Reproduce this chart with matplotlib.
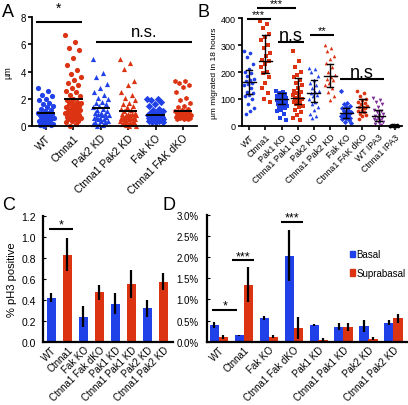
import matplotlib
matplotlib.use('Agg')
import matplotlib.pyplot as plt
from matplotlib.patches import Patch
from matplotlib.ticker import FuncFormatter

plt.rcParams['font.family'] = ['Liberation Sans', 'DejaVu Sans']

BLUE = '#2040e8'
RED = '#dc3412'
PURPLE = '#7b2c98'

# ---- panel A data (um) ----
A_labels = ['WT', 'Ctnna1', 'Pak2 KD', 'Ctnna1 Pak2 KD', 'Fak KO', 'Ctnna1 FAK dKO']
A_wt = [2.8, 2.6, 2.3, 2.2, 2.0, 1.9, 1.7, 1.6, 1.5, 1.4, 1.3, 1.2, 1.1, 1.0, 1.0, 0.9, 0.9,
        0.8, 0.8, 0.7, 0.7, 0.6, 0.6, 0.5, 0.5, 0.4, 0.4, 0.3, 0.3, 0.2, 0.2, 0.1, 0.1, 0.0]
A_ctnna1 = [6.7, 6.2, 5.7, 5.6, 5.0, 4.5, 4.1, 3.8, 3.6, 3.4, 3.2, 3.0, 2.8, 2.6, 2.5, 2.3, 2.2,
            2.0, 1.9, 1.8, 1.8, 1.7, 1.6, 1.6, 1.5, 1.5, 1.4, 1.4, 1.3, 1.2, 1.2, 1.1, 1.1, 1.0,
            1.0, 0.9, 0.9, 0.8, 0.8, 0.7, 0.7, 0.6, 0.6, 0.5, 0.5, 0.4, 0.4, 0.3, 0.2, 0.0]
A_pak2 = [4.9, 3.9, 3.6, 3.1, 2.8, 2.5, 2.3, 2.1, 2.0, 1.8, 1.7, 1.6, 1.5, 1.4, 1.3, 1.2, 1.1,
          1.0, 1.0, 0.9, 0.9, 0.8, 0.8, 0.7, 0.7, 0.6, 0.6, 0.5, 0.5, 0.4, 0.4, 0.3, 0.3, 0.2,
          0.2, 0.1, 0.0]
A_ctnna1_pak2 = [4.9, 4.6, 4.2, 3.3, 3.0, 2.5, 2.3, 2.1, 1.9, 1.7, 1.6, 1.5, 1.4, 1.3, 1.2, 1.1,
                 1.0, 0.9, 0.9, 0.9, 0.8, 0.8, 0.8, 0.7, 0.7, 0.7, 0.6, 0.6, 0.6, 0.5, 0.5, 0.5,
                 0.4, 0.4, 0.4, 0.3, 0.3, 0.3, 0.2, 0.2, 0.2, 0.1, 0.0, 0.0]
A_fak = [2.0, 2.0, 1.9, 1.8, 1.6, 1.5, 1.3, 1.2, 1.1, 1.0, 1.0, 0.9, 0.9, 0.8, 0.8, 0.7, 0.7,
         0.7, 0.6, 0.6, 0.6, 0.5, 0.5, 0.5, 0.5, 0.4, 0.4, 0.4, 0.3, 0.3, 0.3]
A_dko = [3.3, 3.3, 3.2, 3.0, 2.9, 2.5, 2.1, 1.9, 1.7, 1.5, 1.4, 1.3, 1.2, 1.1, 1.1, 1.0, 1.0,
         1.0, 0.9, 0.9, 0.9, 0.8, 0.8, 0.8, 0.7, 0.7, 0.7, 0.6, 0.6, 0.6, 0.5, 0.5, 0.5]
A_mid = [1.0, 2.0, 1.33, 1.14, 0.84, 1.14]

# ---- panel B data (um migrated in 18 h) ----
B_labels = ['WT', 'Ctnna1', 'Pak1 KD', 'Ctnna1 Pak1 KD', 'Pak2 KD', 'Ctnna1 Pak2 KD',
            'Fak KO', 'Ctnna1 FAK dKO', 'WT IPA3', 'Ctnna1 IPA3']
B_wt = [280, 270, 255, 230, 210, 200, 195, 185, 175, 170, 165, 160, 155, 150, 140, 125, 120,
        115, 110, 100, 80, 65, 55, 45]
B_ctnna1 = [390, 380, 365, 340, 330, 320, 300, 290, 270, 260, 245, 240, 230, 220, 200, 195,
            180, 160, 140, 120, 100, 90]
B_pak1 = [130, 125, 120, 118, 115, 112, 110, 108, 105, 103, 100, 100, 98, 95, 93, 90, 88, 85,
          82, 80, 78, 75, 72, 70, 65, 60, 55, 45, 30, 20]
B_ctnna1_pak1 = [280, 240, 220, 200, 190, 180, 170, 160, 150, 140, 130, 125, 120, 115, 110,
                 105, 100, 95, 90, 85, 80, 75, 70, 60, 50, 40, 30, 20]
B_pak2 = [215, 210, 200, 185, 170, 160, 150, 140, 130, 125, 120, 115, 110, 100, 90, 80, 70,
          60, 45, 35, 30]
B_ctnna1_pak2 = [300, 290, 280, 260, 250, 235, 220, 200, 190, 180, 175, 170, 160, 150, 140,
                 125, 110, 95]
B_fak = [130, 85, 80, 75, 70, 65, 60, 55, 50, 48, 45, 42, 40, 38, 35, 32, 30, 28, 25, 20, 15, 10]
B_dko = [130, 120, 110, 100, 95, 90, 85, 80, 75, 70, 68, 65, 60, 55, 50, 45, 40, 35, 25]
B_wt_ipa3 = [105, 95, 90, 80, 70, 60, 55, 50, 45, 40, 35, 30, 28, 25, 22, 20, 15, 10, 5, 2]
B_ctnna1_ipa3 = [0, 0, 1, 0, 2, 0, 1, 0]
B_mid = [164, 241, 100, 105, 122, 184, 46, 70, 35, 0]
B_lo = [119, 195, 81, 80, 88, 145, 28, 51, 19, 0]
B_hi = [206, 337, 121, 177, 170, 230, 66, 98, 58, 0]

# ---- panel C data ----
C_labels = ['WT', 'Ctnna1', 'Fak KO', 'Ctnna1 Fak dKO', 'Pak1 KD', 'Ctnna1 Pak1 KD',
            'Pak2 KD', 'Ctnna1 Pak2 KD']
C_vals = [0.42, 0.83, 0.24, 0.47, 0.36, 0.55, 0.32, 0.57]
C_err = [0.04, 0.16, 0.10, 0.07, 0.10, 0.13, 0.08, 0.08]

# ---- panel D data (%) ----
D_labels = ['WT', 'Ctnna1', 'Fak KO', 'Ctnna1 Fak dKO', 'Pak1 KD', 'Ctnna1 Pak1 KD',
            'Pak2 KD', 'Ctnna1 Pak2 KD']
D_basal = [0.40, 0.15, 0.56, 2.04, 0.40, 0.36, 0.37, 0.45]
D_basal_err = [0.07, 0.01, 0.05, 0.60, 0.03, 0.09, 0.15, 0.06]
D_supra = [0.11, 1.35, 0.12, 0.33, 0.04, 0.35, 0.07, 0.55]
D_supra_err = [0.05, 0.42, 0.04, 0.26, 0.05, 0.10, 0.03, 0.10]


# spread points of one group sideways (golden ratio steps)
def spread(n, w):
    return [((k * 0.618034) % 1.0 - 0.5) * 2 * w for k in range(n)]


def dotGroup(ax, i, vals, color, marker, s, w):
    dx = spread(len(vals), w)
    ax.scatter([i + d for d in dx], vals, s=s, c=color, marker=marker,
               linewidths=0, clip_on=False, zorder=2)


def sigBar(ax, x0, x1, y, txt, ty, fs):
    ax.plot([x0, x1], [y, y], color='black', lw=1.5, clip_on=False,
            solid_capstyle='butt')
    ax.text((x0 + x1) / 2.0, ty, txt, ha='center', va='center', fontsize=fs)


def xLabels(ax, labels, fs):
    ax.set_xticks(range(len(labels)))
    ax.set_xticklabels(labels, rotation=45, ha='right', rotation_mode='anchor',
                       fontsize=fs)


def styleAxes(ax, lw):
    for side in ['top', 'right']:
        ax.spines[side].set_visible(False)
    ax.spines['left'].set_linewidth(lw)
    ax.spines['bottom'].set_linewidth(lw)


fig = plt.figure(figsize=(4.08, 4.06), dpi=100, facecolor='white')

# ---------------- A ----------------
axA = fig.add_axes([0.0784, 0.6865, 0.4044, 0.2692])
A_groups = [A_wt, A_ctnna1, A_pak2, A_ctnna1_pak2, A_fak, A_dko]
A_cols = [BLUE, RED, BLUE, RED, BLUE, RED]
A_marks = ['o', 'o', '^', '^', 'D', 'h']
for i in range(6):
    dotGroup(axA, i, A_groups[i], A_cols[i], A_marks[i], 14, 0.3)
    axA.plot([i - 0.3, i + 0.3], [A_mid[i], A_mid[i]], color='black', lw=1.4, zorder=3)
axA.set_xlim(-0.51, 5.51)
axA.set_ylim(0, 8)
axA.set_yticks([0, 2, 4, 6, 8])
axA.tick_params(axis='y', labelsize=7, width=1.2, length=3, pad=1.5)
axA.tick_params(axis='x', width=1.2, length=3, pad=1.5)
xLabels(axA, A_labels, 7.5)
axA.set_ylabel('µm', fontsize=6.5, labelpad=6)
styleAxes(axA, 1.3)
sigBar(axA, -0.36, 1.31, 7.6, '*', 8.7, 10)
sigBar(axA, 1.82, 5.33, 6.2, 'n.s.', 6.95, 12)

# ---------------- B ----------------
axB = fig.add_axes([0.5931, 0.6879, 0.3922, 0.2645])
B_groups = [B_wt, B_ctnna1, B_pak1, B_ctnna1_pak1, B_pak2, B_ctnna1_pak2,
            B_fak, B_dko, B_wt_ipa3, B_ctnna1_ipa3]
B_cols = [BLUE, RED, BLUE, RED, BLUE, RED, BLUE, RED, PURPLE, 'black']
B_marks = ['o', 's', 's', 's', '^', '^', 'D', 'o', 'v', 'o']
for i in range(10):
    dotGroup(axB, i, B_groups[i], B_cols[i], B_marks[i], 7, 0.32)
    if B_hi[i] > 0:
        axB.plot([i, i], [B_lo[i], B_hi[i]], color='black', lw=1.0, zorder=3)
        for yv in [B_lo[i], B_hi[i]]:
            axB.plot([i - 0.2, i + 0.2], [yv, yv], color='black', lw=1.0, zorder=3)
        axB.plot([i - 0.4, i + 0.4], [B_mid[i], B_mid[i]], color='black', lw=1.0, zorder=3)
axB.set_xlim(-0.45, 9.45)
axB.set_ylim(0, 400)
axB.set_yticks([0, 100, 200, 300, 400])
axB.tick_params(axis='y', labelsize=6.5, width=1.2, length=3, pad=1.5)
axB.tick_params(axis='x', width=1.2, length=3, pad=1.5)
xLabels(axB, B_labels, 6.3)
axB.set_ylabel('µm migrated in 18 hours', fontsize=6, labelpad=2)
styleAxes(axB, 1.3)
sigBar(axB, -0.16, 1.32, 397, '***', 416, 8)
sigBar(axB, 0.48, 2.88, 437, '***', 456, 8)
sigBar(axB, 1.77, 3.38, 311, 'n.s', 337, 13)
sigBar(axB, 3.75, 5.27, 338, '**', 355, 8)
sigBar(axB, 5.64, 8.31, 174, 'n.s', 200, 13)

# ---------------- C ----------------
axC = fig.add_axes([0.1054, 0.1559, 0.3186, 0.3103])
C_cols = [BLUE, RED] * 4
axC.bar(range(8), C_vals, width=0.58, color=C_cols, zorder=1)
axC.errorbar(range(8), C_vals, yerr=C_err, fmt='none', ecolor='black', elinewidth=1.6,
             capsize=0, zorder=2)
axC.set_xlim(-0.53, 7.6)
axC.set_ylim(0, 1.2)
axC.set_yticks([0.0, 0.2, 0.4, 0.6, 0.8, 1.0, 1.2])
axC.yaxis.set_major_formatter(FuncFormatter(lambda v, p: '%.1f' % v))
axC.tick_params(axis='y', labelsize=7.5, direction='in', length=2, pad=5)
axC.tick_params(axis='x', length=0, pad=2)
xLabels(axC, C_labels, 7)
axC.set_ylabel('% pH3 positive', fontsize=8, labelpad=3)
styleAxes(axC, 1.6)
sigBar(axC, -0.17, 1.33, 1.073, '*', 1.12, 9)

# ---------------- D ----------------
axD = fig.add_axes([0.5074, 0.1559, 0.4926, 0.312])
pos = list(range(8))
axD.bar([p - 0.18 for p in pos], D_basal, width=0.37, color=BLUE, label='Basal')
axD.bar([p + 0.18 for p in pos], D_supra, width=0.37, color=RED, label='Suprabasal')
axD.errorbar([p - 0.18 for p in pos], D_basal, yerr=D_basal_err, fmt='none',
             ecolor='black', elinewidth=1.6, capsize=0)
axD.errorbar([p + 0.18 for p in pos], D_supra, yerr=D_supra_err, fmt='none',
             ecolor='black', elinewidth=1.6, capsize=0)
axD.set_xlim(-0.47, 7.58)
axD.set_ylim(0, 3.0)
axD.set_yticks([0, 0.5, 1.0, 1.5, 2.0, 2.5, 3.0])
axD.yaxis.set_major_formatter(FuncFormatter(lambda v, p: '%.1f%%' % v))
axD.tick_params(axis='y', labelsize=7, direction='in', length=2, pad=6)
axD.tick_params(axis='x', length=0, pad=2)
xLabels(axD, D_labels, 7)
styleAxes(axD, 1.6)
sigBar(axD, -0.26, 0.74, 0.76, '*', 0.86, 9)
sigBar(axD, 0.54, 1.42, 1.94, '***', 2.03, 9)
sigBar(axD, 2.51, 3.39, 2.84, '***', 2.94, 9)
leg = axD.legend(handles=[Patch(color=BLUE, label='Basal'), Patch(color=RED, label='Suprabasal')],
                 loc='upper left', bbox_to_anchor=(0.71, 0.73), frameon=False, fontsize=7,
                 handlelength=0.5, handleheight=0.6, handletextpad=0.2, labelspacing=0.9,
                 borderaxespad=0, borderpad=0)

# panel letters
fig.text(0.004, 0.958, 'A', fontsize=13, va='baseline')
fig.text(0.483, 0.958, 'B', fontsize=13, va='baseline')
fig.text(0.004, 0.483, 'C', fontsize=13, va='baseline')
fig.text(0.398, 0.483, 'D', fontsize=13, va='baseline')

fig.savefig('out.png', dpi=100, facecolor='white')
